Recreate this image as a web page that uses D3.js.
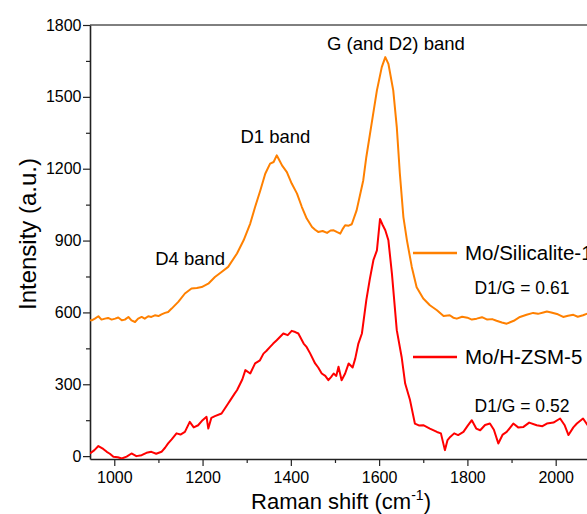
<!DOCTYPE html>
<html>
<head>
<meta charset="utf-8">
<script src="https://cdn.jsdelivr.net/npm/d3@7"></script>
<style>
  body { margin: 0; background: #fff; }
  svg text { font-family: "Liberation Sans", Arimo, Arial, sans-serif !important; }
  .tick text { font-size: 16px; fill: #000; }
</style>
</head>
<body>
<svg id="chart"></svg>
<script>
// Raman spectra: [shift (cm-1), intensity (a.u.)]
const silicalite1 = [
  [945, 567], [949, 567], [956, 574], [964, 584], [971, 570], [979, 574], [986, 577],
  [994, 570], [1002, 574], [1009, 579], [1017, 567], [1024, 570], [1032, 581], [1039, 567],
  [1047, 560], [1054, 574], [1062, 581], [1069, 574], [1077, 584], [1084, 581], [1092, 588],
  [1100, 585], [1107, 592], [1115, 598], [1122, 602], [1130, 616], [1145, 644], [1160, 679],
  [1175, 700], [1187, 702], [1198, 706], [1213, 720], [1228, 748], [1243, 769], [1258, 790],
  [1278, 846], [1293, 901], [1308, 971], [1319, 1040], [1331, 1110], [1342, 1179],
  [1353, 1221], [1361, 1228], [1368, 1256], [1374, 1235], [1380, 1214], [1391, 1186],
  [1402, 1138], [1414, 1096], [1425, 1040], [1436, 992], [1448, 957], [1455, 945],
  [1462, 936], [1472, 940], [1482, 932], [1490, 942], [1497, 943], [1505, 935], [1512, 929],
  [1518, 950], [1523, 964], [1531, 962], [1538, 968], [1549, 1026], [1564, 1151],
  [1571, 1249], [1583, 1388], [1595, 1527], [1606, 1624], [1614, 1666], [1621, 1638],
  [1632, 1527], [1640, 1374], [1647, 1179], [1655, 998], [1663, 901], [1674, 790],
  [1685, 705], [1700, 658], [1715, 630], [1731, 609], [1746, 585], [1760, 588], [1768, 578],
  [1776, 574], [1788, 582], [1800, 578], [1810, 570], [1821, 574], [1833, 580], [1845, 570],
  [1856, 572], [1866, 565], [1878, 558], [1889, 553], [1905, 565], [1919, 581], [1934, 590],
  [1949, 598], [1960, 594], [1972, 600], [1980, 604], [1990, 600], [2005, 592], [2017, 581],
  [2028, 586], [2040, 590], [2050, 582], [2062, 588], [2072, 595], [2080, 592]
];

const hzsm5 = [
  [945, 11], [955, 25], [964, 42], [975, 30], [983, 18], [990, 10], [998, -3], [1008, -5],
  [1017, -10], [1028, -2], [1039, 11], [1050, 0], [1062, 4], [1073, 14], [1084, 18],
  [1095, 10], [1107, 18], [1115, 35], [1122, 53], [1130, 70], [1141, 95], [1150, 90],
  [1160, 101], [1171, 143], [1180, 120], [1190, 129], [1200, 150], [1209, 164], [1213, 115],
  [1220, 160], [1228, 167], [1243, 178], [1258, 220], [1263, 234], [1273, 262], [1278, 275],
  [1290, 320], [1297, 359], [1308, 345], [1319, 387], [1330, 400], [1338, 428], [1345, 440],
  [1353, 456], [1360, 470], [1368, 484], [1383, 512], [1393, 505], [1402, 523], [1410, 518],
  [1417, 512], [1429, 470], [1436, 455], [1444, 428], [1455, 387], [1462, 370], [1470, 345],
  [1478, 335], [1485, 317], [1491, 330], [1497, 345], [1503, 335], [1508, 373], [1515, 317],
  [1523, 345], [1531, 387], [1540, 370], [1546, 408], [1553, 470], [1561, 512], [1571, 651],
  [1579, 740], [1587, 818], [1595, 859], [1602, 990], [1608, 965], [1614, 943], [1621, 901],
  [1629, 762], [1640, 526], [1651, 414], [1659, 303], [1670, 234], [1681, 136], [1690, 128],
  [1700, 129], [1715, 115], [1731, 101], [1740, 95], [1749, 25], [1755, 67], [1761, 80],
  [1770, 95], [1779, 88], [1791, 101], [1800, 125], [1810, 150], [1820, 115], [1829, 108],
  [1840, 130], [1851, 136], [1860, 110], [1870, 53], [1880, 90], [1889, 101], [1904, 136],
  [1915, 120], [1927, 122], [1940, 140], [1957, 129], [1970, 125], [1980, 136], [1995, 140],
  [2010, 157], [2020, 130], [2029, 88], [2040, 120], [2048, 136], [2062, 157], [2072, 130],
  [2080, 140]
];

const xTicks = [1000, 1200, 1400, 1600, 1800, 2000];
const xMinorTicks = [1100, 1300, 1500, 1700, 1900];
const yTicks = [0, 300, 600, 900, 1200, 1500, 1800];
const yMinorTicks = [150, 450, 750, 1050, 1350, 1650];

const seriesNames = ["Mo/Silicalite-1", "Mo/H-ZSM-5"];
const seriesColors = ["#ff8000", "#ff0000"];
const ratioLabels = ["D1/G = 0.61", "D1/G = 0.52"];

// band annotations: [label, shift, intensity at text baseline]
const bandLabels = [
  ["D4 band", 1172, 797],
  ["D1 band", 1365, 1307],
  ["G (and D2) band", 1638, 1694]
];

const width = 587;
const height = 514;
const margin = { top: 25, right: 0, bottom: 55, left: 90 };
const fontStack = '"Liberation Sans", Arimo, Arial, sans-serif';

const svg = d3.select("#chart")
  .attr("width", width)
  .attr("height", height)
  .attr("font-family", fontStack);

// x(1000)=114, x(2000)=556 ; right edge of the frame falls just outside the picture
const x = d3.scaleLinear().domain([945, 2080]).range([margin.left, 591]);
const y = d3.scaleLinear().domain([-12, 1800]).range([height - margin.bottom, margin.top]);

const plotBottom = height - margin.bottom;

// top frame line
svg.append("line")
  .attr("x1", margin.left).attr("x2", 591)
  .attr("y1", margin.top).attr("y2", margin.top)
  .attr("stroke", "#000").attr("stroke-width", 1);

// minor ticks
svg.append("g")
  .attr("transform", `translate(0,${plotBottom})`)
  .call(d3.axisBottom(x).tickValues(xMinorTicks).tickSize(4).tickFormat(""))
  .call(g => g.select(".domain").remove())
  .selectAll("line").attr("stroke", "#222").attr("stroke-width", 1.2);

svg.append("g")
  .attr("transform", `translate(${margin.left},0)`)
  .call(d3.axisLeft(y).tickValues(yMinorTicks).tickSize(4).tickFormat(""))
  .call(g => g.select(".domain").remove())
  .selectAll("line").attr("stroke", "#222").attr("stroke-width", 1.2);

// major axes
const xAxisG = svg.append("g")
  .attr("transform", `translate(0,${plotBottom})`)
  .call(d3.axisBottom(x).tickValues(xTicks).tickFormat(d3.format("d"))
    .tickSize(7).tickSizeOuter(0).tickPadding(6))
  .attr("font-family", fontStack);
xAxisG.select(".domain").attr("stroke", "#222").attr("stroke-width", 1.6);
xAxisG.selectAll(".tick line").attr("stroke", "#222").attr("stroke-width", 1.2);

const yAxisG = svg.append("g")
  .attr("transform", `translate(${margin.left},0)`)
  .call(d3.axisLeft(y).tickValues(yTicks).tickFormat(d3.format("d"))
    .tickSize(7).tickSizeOuter(0).tickPadding(1.5))
  .attr("font-family", fontStack);
yAxisG.select(".domain").attr("stroke", "#222").attr("stroke-width", 1.6);
yAxisG.selectAll(".tick line").attr("stroke", "#222").attr("stroke-width", 1.2);

// axis titles
const xTitle = svg.append("text")
  .attr("x", 341)
  .attr("y", 509)
  .attr("text-anchor", "middle")
  .attr("font-size", 22)
  .attr("fill", "#000");
xTitle.append("tspan").text("Raman shift (cm");
xTitle.append("tspan").attr("dy", -9).attr("font-size", 14).text("-1");
xTitle.append("tspan").attr("dy", 9).text(")");

svg.append("text")
  .attr("transform", "translate(36,234) rotate(-90)")
  .attr("text-anchor", "middle")
  .attr("font-size", 24)
  .attr("fill", "#000")
  .text("Intensity (a.u.)");

// spectra
const line = d3.line()
  .x(d => x(d[0]))
  .y(d => y(d[1]));

svg.append("defs").append("clipPath").attr("id", "plot-clip")
  .append("rect")
  .attr("x", margin.left).attr("y", margin.top)
  .attr("width", 591 - margin.left).attr("height", plotBottom - margin.top);

const plot = svg.append("g").attr("clip-path", "url(#plot-clip)");

[silicalite1, hzsm5].forEach((data, i) => {
  plot.append("path")
    .datum(data)
    .attr("fill", "none")
    .attr("stroke", seriesColors[i])
    .attr("stroke-width", 2)
    .attr("stroke-linejoin", "round")
    .attr("d", line);
});

// band annotations
svg.selectAll(".band-label")
  .data(bandLabels)
  .enter()
  .append("text")
  .attr("class", "band-label")
  .attr("x", d => x(d[1]))
  .attr("y", d => y(d[2]))
  .attr("text-anchor", "middle")
  .attr("font-size", 18.5)
  .attr("fill", "#000")
  .text(d => d[0]);

// legend + D1/G ratios
const legendY = [253, 357];
const ratioY = [294, 412];

seriesNames.forEach((name, i) => {
  svg.append("line")
    .attr("x1", 413).attr("x2", 457)
    .attr("y1", legendY[i]).attr("y2", legendY[i])
    .attr("stroke", seriesColors[i])
    .attr("stroke-width", 2.5);

  svg.append("text")
    .attr("x", 465)
    .attr("y", legendY[i] + 7)
    .attr("font-size", 20.5)
    .attr("fill", "#000")
    .text(name);

  svg.append("text")
    .attr("x", 522)
    .attr("y", ratioY[i])
    .attr("text-anchor", "middle")
    .attr("font-size", 17.5)
    .attr("fill", "#000")
    .text(ratioLabels[i]);
});
</script>
</body>
</html>
